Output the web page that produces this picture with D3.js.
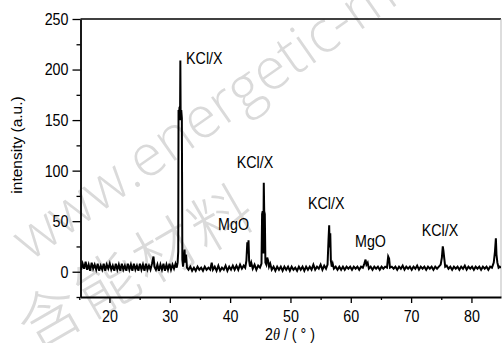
<!DOCTYPE html>
<html>
<head>
<meta charset="utf-8">
<script src="https://cdn.jsdelivr.net/npm/d3@7"></script>
<style>
  html, body { margin: 0; padding: 0; background: #fff; }
  svg { display: block; }
  .lbl, .ttl { font-family: "Liberation Sans", Arial, sans-serif; }
</style>
</head>
<body>
<svg id="chart" width="502" height="343"></svg>
<script>
// XRD scan, [2theta, intensity]
const scan = [
  [15.3,2],[15.55,8],[15.8,3],[16.05,10],[16.3,2],[16.55,7],[16.8,1],[17.05,9],[17.3,3],[17.55,7],
  [17.8,2],[18.05,8],[18.3,1],[18.55,6],[18.8,2],[19.05,8],[19.3,1],[19.55,7],[19.8,3],[20.05,8],
  [20.3,2],[20.55,6],[20.8,1],[21.05,8],[21.3,2],[21.55,7],[21.8,1],[22.05,8],[22.3,2],[22.55,6],
  [22.8,1],[23.05,8],[23.3,2],[23.55,7],[23.8,1],[24.05,8],[24.3,2],[24.55,6],[24.8,1],[25.05,8],
  [25.3,2],[25.55,7],[25.8,1],[26.05,8],[26.3,2],[26.55,6],[26.8,2],[27.05,8],[27.3,15],[27.45,5],
  [27.7,2],[27.95,7],[28.2,1],[28.45,7],[28.7,2],[28.95,8],[29.2,1],[29.45,7],[29.7,2],[29.95,8],
  [30.2,2],[30.45,7],[30.7,3],[30.95,8],[31.15,4],[31.3,9],
  // KCl/X main reflection
  [31.4,20],[31.45,160],[31.55,158],[31.62,163],[31.7,150],[31.75,209],[31.8,155],[31.9,160],
  [32.0,152],[32.08,12],[32.2,5],[32.35,14],[32.45,22],[32.55,9],[32.7,17],[32.85,4],
  [33.1,2],[33.4,5],[33.7,1],[34.0,4],[34.3,1],[34.6,5],[34.9,2],[35.2,4],[35.5,1],[35.8,5],
  [36.1,2],[36.4,4],[36.7,2],[36.95,9],[37.15,2],[37.45,5],[37.75,1],[38.05,6],[38.35,1],[38.65,4],
  [38.95,2],[39.25,6],[39.55,1],[39.85,5],[40.15,2],[40.45,6],[40.75,2],[41.05,6],[41.35,2],[41.65,7],
  [41.95,3],[42.25,6],[42.5,4],
  // MgO
  [42.7,11],[42.85,29],[42.95,18],[43.05,31],[43.15,11],[43.3,5],[43.5,9],[43.75,3],[44.05,7],[44.35,2],
  [44.65,6],[44.95,4],[45.2,8],
  // KCl/X
  [45.3,57],[45.4,60],[45.5,18],[45.58,88],[45.65,60],[45.75,57],[45.85,9],[46.0,7],[46.15,14],[46.3,11],
  [46.45,5],[46.65,8],[46.9,2],[47.2,5],[47.5,1],[47.8,5],[48.1,2],[48.4,5],[48.7,1],[49.0,5],
  [49.3,2],[49.6,5],[49.9,1],[50.2,5],[50.5,2],[50.8,4],[51.1,1],[51.4,5],[51.7,2],[52.0,5],
  [52.3,1],[52.6,5],[52.9,2],[53.2,5],[53.5,2],[53.8,7],[54.1,2],[54.4,5],[54.7,3],[55.0,7],
  [55.3,2],[55.6,6],[55.9,3],[56.15,7],
  // KCl/X
  [56.3,30],[56.42,46],[56.5,24],[56.6,38],[56.7,11],[56.85,5],[57.0,8],[57.2,3],[57.5,5],[57.8,2],
  [58.1,5],[58.4,2],[58.7,5],[59.0,2],[59.3,5],[59.6,3],[59.9,5],[60.2,2],[60.5,5],[60.8,3],
  [61.1,5],[61.4,2],[61.7,5],[62.0,4],
  // MgO
  [62.25,8],[62.45,12],[62.6,7],[62.8,9],[63.0,3],[63.3,5],[63.6,2],[63.9,5],[64.2,3],[64.5,5],
  [64.8,2],[65.1,5],[65.4,3],[65.7,5],[66.0,4],[66.2,15],[66.35,13],[66.5,4],[66.8,5],[67.1,3],
  [67.4,5],[67.7,2],[68.0,5],[68.3,3],[68.6,6],[68.9,2],[69.2,5],[69.5,3],[69.8,5],[70.1,2],
  [70.4,5],[70.7,3],[71.0,6],[71.3,2],[71.6,5],[71.9,3],[72.2,5],[72.5,2],[72.8,5],[73.1,3],
  [73.4,5],[73.7,2],[74.0,5],[74.3,3],[74.6,5],[74.9,7],
  // KCl/X
  [75.1,14],[75.25,25],[75.35,21],[75.5,13],[75.65,5],[75.9,6],[76.2,3],[76.5,5],[76.8,2],[77.1,5],
  [77.4,3],[77.7,5],[78.0,2],[78.3,5],[78.6,3],[78.9,6],[79.2,2],[79.5,5],[79.8,3],[80.1,5],
  [80.4,2],[80.7,5],[81.0,3],[81.3,5],[81.6,2],[81.9,5],[82.2,3],[82.5,5],[82.8,2],[83.1,5],
  [83.4,4],[83.7,9],[83.9,20],[84.05,33],[84.15,17],[84.3,9],[84.5,4],[84.7,5],[84.9,4]
];

// peak annotations: [2theta of text start, intensity at baseline, text]
const peakLabels = [
  [32.7, 205, "KCl/X"],
  [41.1, 103, "KCl/X"],
  [38.0, 41, "MgO"],
  [52.9, 62, "KCl/X"],
  [60.7, 24, "MgO"],
  [71.75, 35, "KCl/X"]
];

const xTicks = [20, 30, 40, 50, 60, 70, 80];
const yTicks = [0, 50, 100, 150, 200, 250];

const m = { left: 80.5, top: 19, right: 501, bottom: 297 };

const svg = d3.select("#chart");

// watermark
const wm = svg.append("g").attr("fill", "#dadada").style("pointer-events", "none");
wm.append("text")
  .attr("transform", "translate(30,262) rotate(-35)")
  .style("font-family", "'Open Sans', 'Liberation Sans', sans-serif")
  .style("font-weight", 300)
  .style("font-size", "58px")
  .text("www.energetic-materials");
wm.append("text")
  .attr("transform", "translate(34,352) rotate(-30)")
  .style("font-family", "'Noto Sans CJK SC', sans-serif")
  .style("font-weight", 300)
  .style("font-size", "62px")
  .attr("letter-spacing", "4px")
  .text("含能材料");

const x = d3.scaleLinear().domain([15.2, 84.9]).range([m.left, m.right]);
const y = d3.scaleLinear().domain([-25, 250]).range([m.bottom, m.top]);

svg.append("clipPath").attr("id", "clip")
  .append("rect")
  .attr("x", m.left).attr("y", m.top)
  .attr("width", m.right - m.left).attr("height", m.bottom - m.top);

// frame top and right
svg.append("line")
  .attr("x1", m.left).attr("x2", m.right)
  .attr("y1", m.top).attr("y2", m.top)
  .attr("stroke", "#000").attr("stroke-width", 1.5);
svg.append("line")
  .attr("x1", m.right).attr("x2", m.right)
  .attr("y1", m.top).attr("y2", m.bottom)
  .attr("stroke", "#bbb").attr("stroke-width", 1);

// the scan
const line = d3.line()
  .x(d => x(d[0]))
  .y(d => y(d[1]));

svg.append("path")
  .datum(scan)
  .attr("clip-path", "url(#clip)")
  .attr("fill", "none")
  .attr("stroke", "#000")
  .attr("stroke-width", 2)
  .attr("stroke-linejoin", "miter")
  .attr("d", line);

// axes
const xMinor = [15, 25, 35, 45, 55, 65, 75];
const yMinor = [-25, 25, 75, 125, 175, 225];

const xAxis = svg.append("g")
  .attr("transform", `translate(0,${m.bottom})`)
  .call(d3.axisBottom(x).tickValues(xTicks).tickSize(6).tickPadding(4).tickSizeOuter(0));
svg.append("g")
  .attr("transform", `translate(0,${m.bottom})`)
  .call(d3.axisBottom(x).tickValues(xMinor).tickSize(3).tickFormat("").tickSizeOuter(0))
  .select(".domain").remove();

svg.append("g")
  .attr("transform", `translate(${m.left},0)`)
  .call(d3.axisLeft(y).tickValues(yTicks).tickSize(8).tickPadding(4).tickSizeOuter(0));
svg.append("g")
  .attr("transform", `translate(${m.left},0)`)
  .call(d3.axisLeft(y).tickValues(yMinor).tickSize(4).tickFormat("").tickSizeOuter(0))
  .select(".domain").remove();

svg.selectAll(".domain").attr("stroke", "#000").attr("stroke-width", 1.8);
svg.selectAll(".tick line").attr("stroke", "#000").attr("stroke-width", 1.3);
svg.selectAll(".tick text")
  .attr("class", "lbl")
  .attr("fill", "#000")
  .style("font-size", "17px");
xAxis.selectAll(".tick text").attr("dy", "0.9em");

// axis titles
svg.append("text")
  .attr("class", "ttl")
  .attr("transform", "translate(22,145) rotate(-90)")
  .attr("text-anchor", "middle")
  .style("font-size", "15.5px")
  .text("intensity (a.u.)");

const xt = svg.append("text")
  .attr("class", "lbl")
  .attr("x", 290).attr("y", 340)
  .attr("text-anchor", "middle")
  .style("font-size", "17px");
xt.append("tspan").text("2");
xt.append("tspan").style("font-style", "italic").style("font-family", "'Liberation Serif', serif").text("θ");
xt.append("tspan").text(" / ( ° )");

// peak labels
svg.append("g")
  .selectAll("text")
  .data(peakLabels)
  .join("text")
  .attr("class", "lbl")
  .attr("x", d => x(d[0]))
  .attr("y", d => y(d[1]))
  .style("font-size", "17px")
  .text(d => d[2]);

// the original uses a condensed face: squeeze the glyphs horizontally
svg.selectAll("text.lbl").each(function () {
  const len = this.getComputedTextLength();
  d3.select(this)
    .attr("textLength", len * 0.84)
    .attr("lengthAdjust", "spacingAndGlyphs");
});
</script>
</body>
</html>
